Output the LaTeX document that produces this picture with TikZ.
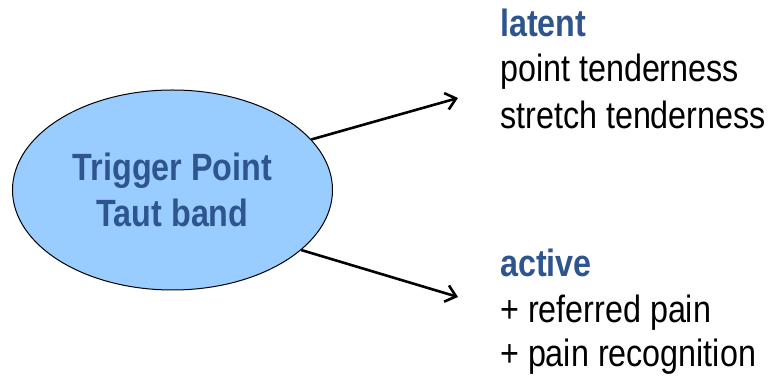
\documentclass[tikz,border=0pt]{standalone}
\usepackage{fontspec}
\setmainfont{Liberation Sans}[FakeStretch=0.85]
\usepackage{tikz}
\usetikzlibrary{arrows.meta,positioning,shapes.geometric}
\definecolor{tpblue}{RGB}{153,204,255}
\definecolor{tptext}{RGB}{47,85,143}

\begin{document}
\begin{tikzpicture}[x=1pt,y=1pt,>={Straight Barb[length=10pt,width=17pt]}, every node/.style={font=\fontsize{38}{46}\selectfont}]
    \tikzset{hub/.style={ellipse,draw,line width=1pt,fill=tpblue,text=tptext,minimum width=320pt,minimum height=200pt,inner sep=0pt,align=center,font=\bfseries\fontsize{38}{46}\selectfont}}
    \tikzset{kind/.style={anchor=base west,inner sep=0pt,text=tptext,font=\bfseries\fontsize{38}{46}\selectfont}}
    \tikzset{sign/.style={anchor=base west,inner sep=0pt}}
    \tikzset{link/.style={->,line width=2.6pt}}

    \useasboundingbox (0,0) rectangle (776,385);

    % Trigger point
    \node[hub] (trig) at (172.5,195) {Trigger Point\\Taut band};

    % Latent
    \node[kind] (latenthead) at (500,348) {latent};
    \node[sign] (latentone) at (500,303) {point tenderness};
    \node[sign] (latenttwo) at (500,256) {stretch tenderness};

    % Active
    \node[kind] (activehead) at (500,108) {active};
    \node[sign] (activeone) at (500,62) {+ referred pain};
    \node[sign] (activetwo) at (500,18) {+ pain recognition};

    \coordinate (latentend) at (458,287);
    \coordinate (activeend) at (458,88);
    \draw[link] (trig.20) -- (latentend);
    \draw[link] (trig.-25) -- (activeend);
\end{tikzpicture}
\end{document}
